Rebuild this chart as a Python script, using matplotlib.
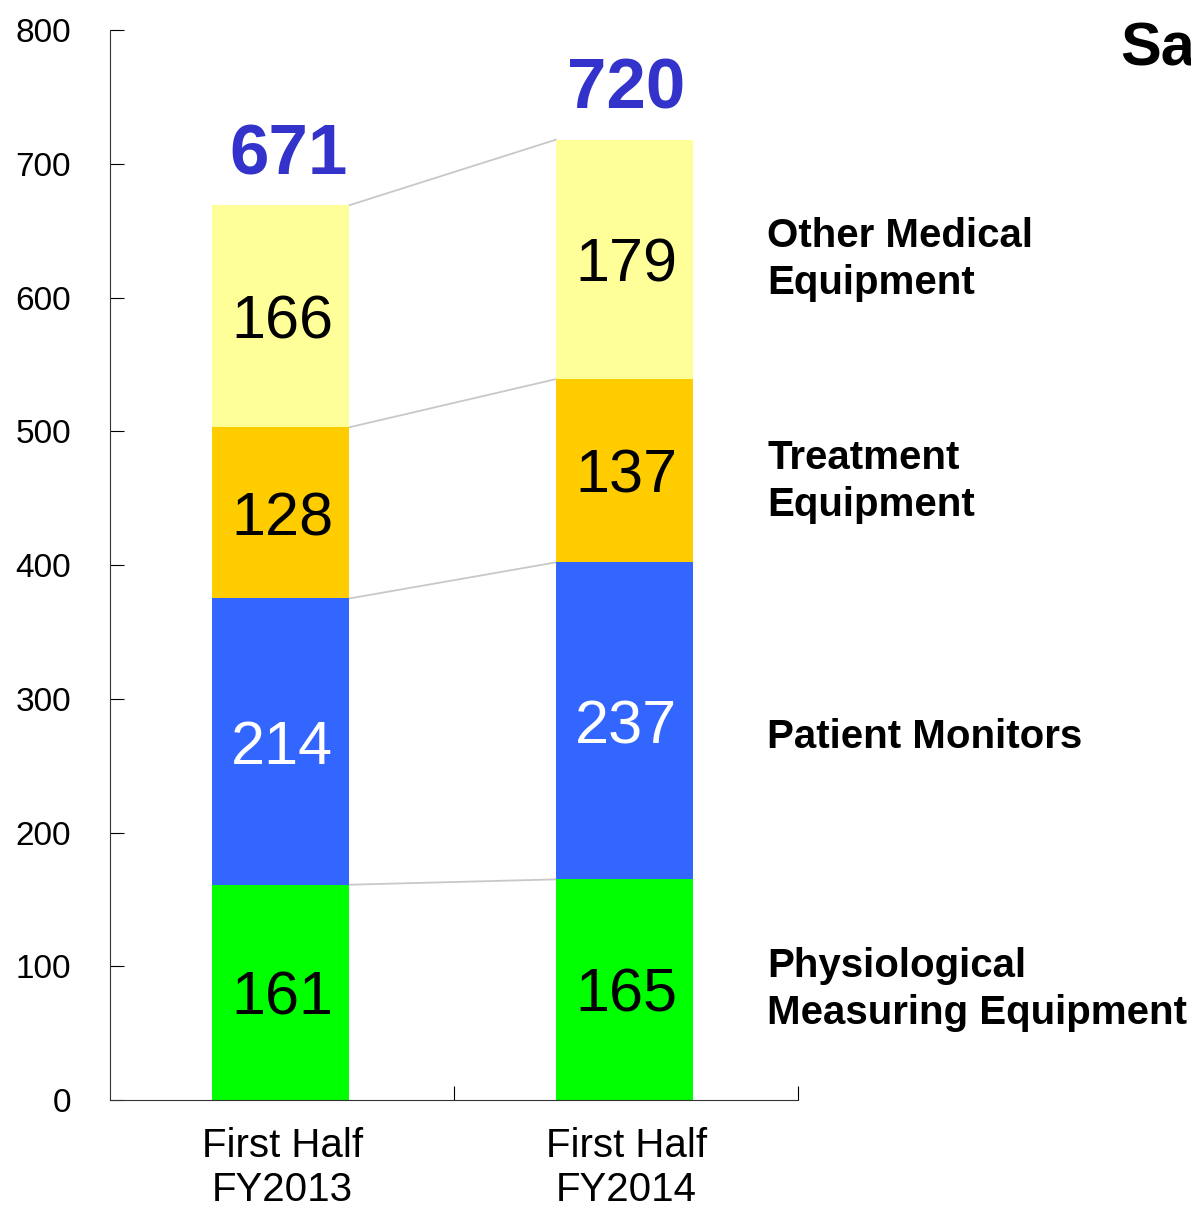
import numpy as np
import matplotlib.pyplot as plt

plt.rcParams['font.family'] = ['Liberation Sans', 'DejaVu Sans']

periods = ['First Half\nFY2013', 'First Half\nFY2014']
categories = ['Physiological\nMeasuring Equipment', 'Patient Monitors',
              'Treatment\nEquipment', 'Other Medical\nEquipment']
values = [
    [161, 165],  # physiological measuring equipment
    [214, 237],  # patient monitors
    [128, 137],  # treatment equipment
    [166, 179],  # other medical equipment
]
totals = [671, 720]
colors = ['#00FF00', '#3366FF', '#FFCC00', '#FFFF99']
text_colors = ['black', 'white', 'black', 'black']

fig = plt.figure(figsize=(11.91, 12.07), dpi=100)
ax = fig.add_axes([0.0924, 0.0886, 0.578, 0.8865])

x = np.arange(len(periods))
width = 0.4
bottom = np.zeros(len(periods))
for vals, col, tcol in zip(values, colors, text_colors):
    vals = np.array(vals)
    ax.bar(x - 0.005, vals, width, bottom=bottom, color=col, zorder=2)
    for xi, b, v in zip(x, bottom, vals):
        ax.text(xi, b + v / 2 - 5, str(v), ha='center', va='center',
                fontsize=44, color=tcol, zorder=3)
    top = bottom + vals
    # connector line between stacked boundaries
    ax.plot([x[0] - 0.005 + width / 2, x[1] - 0.005 - width / 2], [top[0], top[1]],
            color='#C8C8C8', lw=1.3, zorder=1)
    bottom = top

for xi, t in zip(x, totals):
    ax.text(xi + (0.02 if xi == 0 else 0), t + 21, str(t), ha='center',
            va='baseline', fontsize=51, fontweight='bold', color='#3333CC')

# category labels on the right
mids = np.cumsum([v[1] for v in values]) - np.array([v[1] for v in values]) / 2
offsets = [0, -12, -8, 0]
for lab, m, off in zip(categories, mids, offsets):
    ax.text(1.41, m + off, lab, ha='left', va='center', fontsize=29,
            fontweight='bold', linespacing=1.3, clip_on=False)

for xi, p in zip(x, periods):
    ax.text(xi, -20, p, ha='center', va='top', fontsize=29,
            linespacing=1.2, clip_on=False)

ax.set_xlim(-0.5, 1.5)
ax.set_ylim(0, 800)
ax.set_yticks(np.arange(0, 801, 100))
ax.set_xticks([0.5, 1.5])
ax.set_xticklabels([])
ax.tick_params(axis='y', direction='in', length=10, labelsize=24, pad=28)
ax.tick_params(axis='x', direction='in', length=10)
ax.spines['top'].set_visible(False)
ax.spines['right'].set_visible(False)
ax.spines['left'].set_color('#333333')
ax.spines['bottom'].set_color('#333333')

# title is cut off at the right edge in the source image
fig.text(1120 / 1191, 1 - 50 / 1207, 'Sa', ha='left', va='center',
         fontsize=44, fontweight='bold')

fig.savefig('out.png', dpi=100)
